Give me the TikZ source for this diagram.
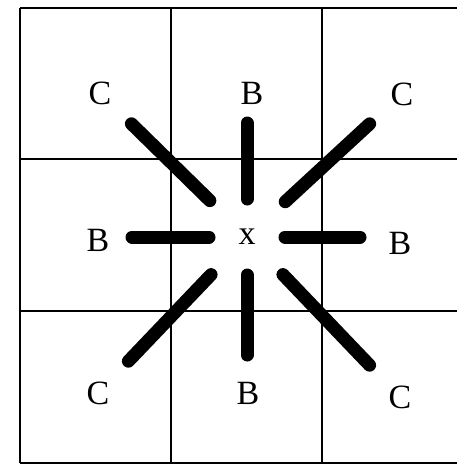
\documentclass[tikz,border=0pt]{standalone}
\usepackage{fontspec}
\setmainfont{Liberation Serif}
\begin{document}
\begin{tikzpicture}[x=1pt, y=-1pt,
  lbl/.style={font=\fontsize{34}{34}\selectfont, inner sep=0pt},
  ray/.style={line width=13pt, line cap=round, shorten <=#1},
  ray/.default=38pt]

\useasboundingbox (0,0) rectangle (456,469);

% Griglia 3x3
\foreach \p in {20,171,322,473}
  \draw[line width=2pt] (\p,8) -- (\p,463);
\foreach \q in {8,159,311,463}
  \draw[line width=2pt] (20,\q) -- (473,\q);

% Nodi delle celle
\node[lbl] (c1) at (100,93) {C};
\node[lbl] (b1) at (252,93) {B};
\node[lbl] (c2) at (402,94) {C};

\node[lbl] (b2) at (98,240) {B};
\node[lbl] (x) at (247,237) {x};
\node[lbl] (b3) at (400,243) {B};

\node[lbl] (c3) at (98,393) {C};
\node[lbl] (b4) at (248,393) {B};
\node[lbl] (c4) at (400,397) {C};

% Raggi verso i vicini B
\draw[ray, shorten >=30pt] (x.center) -- (x.center |- b1.center);
\draw[ray, shorten >=34pt] (x.center) -- (b2.center |- x.center);
\draw[ray, shorten >=40pt] (x.center) -- (b3.center |- x.center);
\draw[ray, shorten >=38pt] (x.center) -- (x.center |- b4.center);

% Raggi verso i vicini C
\draw[ray=52pt, shorten >=44pt] (x.center) -- (c1.center);
\draw[ray=52pt, shorten >=44pt] (x.center) -- (c2.center);
\draw[ray=52pt, shorten >=44pt] (x.center) -- (c3.center);
\draw[ray=52pt, shorten >=44pt] (x.center) -- (c4.center);

\end{tikzpicture}
\end{document}
